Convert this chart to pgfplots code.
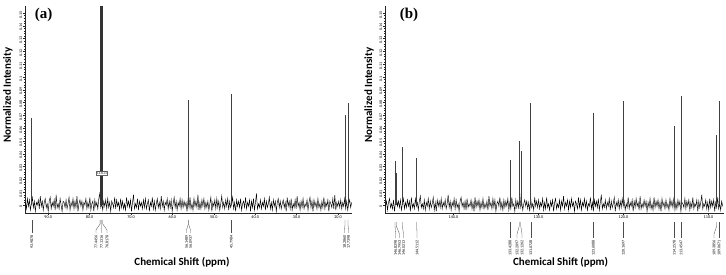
\documentclass[border=0pt]{standalone}
\usepackage{fontspec}
\setmainfont{Carlito}
\newfontfamily\serifb{Liberation Serif}
\usepackage{pgfplots}
\pgfplotsset{compat=1.18}
\usepackage{pgfplotstable}

% baseline noise, in units of 0.001 (normalized intensity)
\pgfplotstableread[row sep=\\]{y\\
2\\ -3\\ 5\\ -1\\ 4\\ -4\\ 1\\ 6\\ -2\\ 3\\ -5\\ 2\\ 0\\ 4\\ -3\\ 7\\ -1\\ 3\\ -4\\ 2\\
5\\ -2\\ 1\\ -5\\ 3\\ 6\\ -3\\ 2\\ -1\\ 4\\ -4\\ 8\\ -2\\ 1\\ -3\\ 5\\ 0\\ -5\\ 3\\ 2\\
-2\\ 4\\ -3\\ 1\\ 6\\ -4\\ 2\\ -1\\ 5\\ -3\\ 3\\ -2\\ 7\\ -5\\ 1\\ 4\\ -1\\ 3\\ -4\\ 2\\
0\\ 5\\ -3\\ 2\\ -2\\ 6\\ -4\\ 1\\ 3\\ -5\\ 4\\ -1\\ 2\\ -3\\ 5\\ 9\\ -2\\ 1\\ -4\\ 3\\
-1\\ 4\\ -3\\ 5\\ -2\\ 2\\ -5\\ 3\\ 1\\ -2\\ 6\\ -3\\ 4\\ -1\\ 2\\ -4\\ 5\\ -2\\ 3\\ -3\\
1\\ -4\\ 6\\ -1\\ 3\\ -2\\ 4\\ -5\\ 2\\ 8\\ -3\\ 1\\ -2\\ 5\\ -4\\ 3\\ -1\\ 2\\ -3\\ 4\\
-2\\ 5\\ -3\\ 1\\ 4\\ -5\\ 2\\ -1\\ 6\\ -3\\ 3\\ -4\\ 1\\ 5\\ -2\\ 2\\ -3\\ 7\\ -1\\ 3\\
-4\\ 2\\ 0\\ 5\\ -3\\ 3\\ -2\\ 4\\ -5\\ 1\\ 6\\ -2\\ 3\\ -4\\ 2\\ -1\\ 5\\ -3\\ 4\\ -2\\
3\\ -1\\ 2\\ -5\\ 4\\ -2\\ 6\\ -3\\ 1\\ -4\\ 5\\ -1\\ 3\\ -2\\ 8\\ -4\\ 2\\ -3\\ 4\\ -1\\
5\\ -3\\ 2\\ -2\\ 3\\ -4\\ 1\\ 6\\ -5\\ 2\\ -1\\ 4\\ -3\\ 5\\ -2\\ 3\\ -4\\ 1\\ 7\\ -2\\
2\\ -3\\ 4\\ -1\\ 5\\ -4\\ 3\\ -2\\ 1\\ 6\\ -3\\ 2\\ -5\\ 4\\ -1\\ 3\\ -2\\ 5\\ -4\\ 1\\
3\\ -2\\ 6\\ -3\\ 2\\ -1\\ 4\\ -5\\ 3\\ -2\\ 5\\ -4\\ 2\\ 9\\ -3\\ 1\\ -2\\ 4\\ -3\\ 2\\
-1\\ 5\\ -4\\ 3\\ -2\\ 1\\ 6\\ -3\\ 2\\ -4\\ 4\\ -1\\ 3\\ -5\\ 2\\ 5\\ -2\\ 3\\ -3\\ 1\\
4\\ -2\\ 2\\ -5\\ 6\\ -1\\ 3\\ -3\\ 5\\ -4\\ 1\\ -2\\ 4\\ -3\\ 7\\ -1\\ 2\\ -4\\ 3\\ -2\\
5\\ -3\\ 1\\ -1\\ 4\\ -4\\ 2\\ 6\\ -2\\ 3\\ -5\\ 4\\ -1\\ 2\\ -3\\ 5\\ -2\\ 1\\ -4\\ 3\\
-2\\ 6\\ -3\\ 2\\ -1\\ 4\\ -5\\ 3\\ 1\\ -2\\ 5\\ -3\\ 8\\ -4\\ 2\\ -1\\ 3\\ -2\\ 4\\ -3\\
2\\ -1\\ 5\\ -3\\ 3\\ -4\\ 1\\ 4\\ -2\\ 2\\
}\noiseA

\pgfplotstableread[row sep=\\]{y\\
-1\\ 3\\ -4\\ 2\\ 5\\ -2\\ 1\\ -3\\ 4\\ -5\\ 2\\ 6\\ -1\\ 3\\ -2\\ 4\\ -4\\ 1\\ 5\\ -3\\
2\\ -2\\ 4\\ -1\\ 3\\ -5\\ 6\\ -2\\ 1\\ -3\\ 5\\ -1\\ 2\\ -4\\ 3\\ 7\\ -2\\ 1\\ -3\\ 4\\
-4\\ 2\\ -1\\ 5\\ -3\\ 3\\ -2\\ 1\\ 6\\ -4\\ 2\\ -5\\ 4\\ -1\\ 3\\ -2\\ 5\\ -3\\ 2\\ -1\\
4\\ -3\\ 1\\ 8\\ -2\\ 3\\ -4\\ 2\\ -1\\ 5\\ -3\\ 4\\ -2\\ 1\\ -5\\ 3\\ 6\\ -1\\ 2\\ -3\\
3\\ -4\\ 5\\ -2\\ 1\\ -1\\ 4\\ -3\\ 2\\ -5\\ 6\\ -2\\ 3\\ -1\\ 4\\ -4\\ 2\\ -2\\ 5\\ -3\\
1\\ -2\\ 3\\ -4\\ 7\\ -1\\ 2\\ -3\\ 5\\ -2\\ 4\\ -5\\ 1\\ 3\\ -1\\ 6\\ -3\\ 2\\ -4\\ 4\\
-2\\ 3\\ -1\\ 5\\ -4\\ 2\\ -3\\ 6\\ -1\\ 1\\ -5\\ 4\\ -2\\ 3\\ -3\\ 9\\ -2\\ 2\\ -4\\ 1\\
4\\ -1\\ 3\\ -3\\ 2\\ -5\\ 5\\ -2\\ 1\\ -4\\ 6\\ -1\\ 3\\ -2\\ 4\\ -3\\ 2\\ -1\\ 5\\ -4\\
2\\ -3\\ 6\\ -2\\ 1\\ -4\\ 3\\ -1\\ 4\\ -5\\ 2\\ 5\\ -3\\ 1\\ -2\\ 4\\ -4\\ 3\\ -1\\ 7\\
-3\\ 2\\ -1\\ 4\\ -4\\ 3\\ -2\\ 5\\ -1\\ 2\\ -5\\ 3\\ 1\\ -3\\ 6\\ -2\\ 4\\ -4\\ 2\\ -1\\
5\\ -2\\ 3\\ -4\\ 1\\ -1\\ 6\\ -3\\ 2\\ -5\\ 4\\ -1\\ 3\\ -2\\ 5\\ -4\\ 2\\ 8\\ -3\\ 1\\
-2\\ 4\\ -3\\ 2\\ -1\\ 5\\ -4\\ 3\\ -2\\ 1\\ 6\\ -5\\ 2\\ -1\\ 4\\ -3\\ 3\\ -2\\ 5\\ -1\\
3\\ -4\\ 1\\ -2\\ 6\\ -3\\ 2\\ -1\\ 4\\ -5\\ 3\\ -2\\ 5\\ -1\\ 2\\ -4\\ 7\\ -3\\ 1\\ -2\\
4\\ -1\\ 3\\ -5\\ 2\\ -2\\ 5\\ -3\\ 1\\ -4\\ 6\\ -2\\ 3\\ -1\\ 4\\ -3\\ 2\\ -5\\ 5\\ -1\\
2\\ -3\\ 4\\ -2\\ 1\\ -4\\ 5\\ -1\\ 3\\ -2\\ 6\\ -4\\ 2\\ -3\\ 4\\ -1\\ 3\\ -5\\ 2\\ 1\\
-2\\ 5\\ -3\\ 3\\ -1\\ 4\\ -4\\ 2\\ -2\\ 6\\ -3\\ 1\\ -1\\ 4\\ -5\\ 3\\ -2\\ 2\\ 8\\ -3\\
1\\ -1\\ 4\\ -3\\ 2\\ -4\\ 5\\ -2\\ 3\\ -1\\ 4\\ -5\\ 2\\ -2\\ 6\\ -3\\ 1\\ -4\\ 3\\ -1\\
}\noiseB

% peak label: #1 peak ppm, #2 label ppm, #3 text
\newcommand{\plabA}[3]{%
  \draw[black!70, line width=0.3pt] (axis cs:#1,-11.7) -- (axis cs:#1,-14.8) -- (axis cs:#2,-19.5) -- (axis cs:#2,-21.9);
  \node[rotate=90, anchor=east, font=\fontsize{4}{4}\selectfont, inner sep=0.3pt] at (axis cs:#2,-23.4) {#3};}
\newcommand{\plabB}[3]{%
  \draw[black!70, line width=0.3pt] (axis cs:#1,-13.3) -- (axis cs:#1,-16.4) -- (axis cs:#2,-22.7) -- (axis cs:#2,-25.8);
  \node[rotate=90, anchor=east, font=\fontsize{4}{4}\selectfont, inner sep=0.3pt] at (axis cs:#2,-27.3) {#3};}

\pgfplotsset{nmr/.style={
  scale only axis, height=207pt, ymin=-6.25, ymax=155.5,
  x dir=reverse, axis x line=bottom, axis y line=left,
  axis line style={-, line width=0.4pt, black!85},
  ytick={0,10,...,150},
  yticklabels={0,0.01,0.02,0.03,0.04,0.05,0.06,0.07,0.08,0.09,0.1,0.11,0.12,0.13,0.14,0.15},
  minor y tick num=4, tick align=outside,
  major tick length=1.8pt, minor tick length=1pt,
  tick style={black!85, line width=0.3pt},
  yticklabel style={rotate=90, anchor=south, font=\fontsize{4}{4}\selectfont, inner sep=0.8pt, xshift=-1.5pt},
  xticklabel style={font=\fontsize{4.2}{4.2}\selectfont, inner sep=0.8pt},
  clip=false,
  xlabel={Chemical Shift (ppm)}, ylabel={Normalized Intensity},
  label style={font=\fontsize{11}{12}\selectfont\bfseries},
}}

\begin{document}
\begin{tikzpicture}
\useasboundingbox (0pt,0pt) rectangle (726pt,274pt);

% ---------------- panel (a) ----------------
\begin{axis}[nmr, at={(25pt,61pt)}, anchor=south west, width=327pt,
  xmin=16.62, xmax=95.60,
  xtick={20,30,40,50,60,70,80,90},
  xticklabels={20.0,30.0,40.0,50.0,60.0,70.0,80.0,90.0},
  minor x tick num=4,
  xlabel style={at={(axis description cs:0.48,-0.237)}, anchor=center},
  ylabel style={at={(axis description cs:-0.052,0.57)}, anchor=center},
]
\addplot[black, line width=0.45pt, no marks] table[x expr={95.5-\coordindex*0.2395}, y=y] {\noiseA};
\addplot[ycomb, black!75, line width=0.5pt, no marks] coordinates {
  (93.9878,68) (56.1489,82) (56.0937,80) (45.7984,87) (18.29,70) (17.60,80)};
\addplot[ycomb, black!80, line width=0.6pt, no marks] coordinates {
  (77.45,155.5) (77.13,155.5) (76.82,155.5)};
\node[draw=black!60, line width=0.2pt, fill=white, inner sep=0.6pt, font=\serifb\fontsize{3.5}{3.5}\selectfont] at (axis cs:77.0,25) {CDCl3};
\node[font=\serifb\fontsize{15}{15}\selectfont\bfseries] at (axis description cs:0.057,0.957) {(a)};
\plabA{93.9878}{93.9878}{93.9878}
\plabA{77.45}{78.45}{77.4456}
\plabA{77.13}{77.12}{77.1316}
\plabA{76.82}{75.80}{76.8178}
\plabA{56.1489}{56.59}{56.1489}
\plabA{56.0937}{55.63}{56.0937}
\plabA{45.7984}{45.7984}{45.7984}
\plabA{18.29}{18.43}{18.2860}
\plabA{17.60}{17.46}{17.7398}
\end{axis}

% ---------------- panel (b) ----------------
\begin{axis}[nmr, at={(385pt,61pt)}, anchor=south west, width=339pt,
  xmin=108.18, xmax=148.06,
  xtick={110,120,130,140},
  xticklabels={110.0,120.0,130.0,140.0},
  minor x tick num=9,
  xlabel style={at={(axis description cs:0.518,-0.237)}, anchor=center},
  ylabel style={at={(axis description cs:-0.047,0.57)}, anchor=center},
]
\addplot[black, line width=0.45pt, no marks] table[x expr={148.0-\coordindex*0.117}, y=y] {\noiseB};
\addplot[ycomb, black!75, line width=0.5pt, no marks] coordinates {
  (146.88,34) (146.73,25) (146.02,45) (144.33,37) (133.35,35) (132.26,50) (132.09,42)
  (130.92,80) (123.55,72) (120.02,81) (114.02,62) (113.24,85) (109.04,55) (108.76,81)};
\node[font=\serifb\fontsize{15}{15}\selectfont\bfseries] at (axis description cs:0.071,0.957) {(b)};
\plabB{146.88}{146.82}{146.8298}
\plabB{146.73}{146.35}{146.7953}
\plabB{146.02}{145.88}{146.0213}
\plabB{144.33}{144.29}{144.5112}
\plabB{133.35}{133.35}{133.4288}
\plabB{132.26}{132.53}{132.2097}
\plabB{132.09}{131.94}{132.1262}
\plabB{130.92}{130.92}{131.0728}
\plabB{123.55}{123.55}{123.6088}
\plabB{120.02}{120.02}{120.1697}
\plabB{114.02}{114.02}{114.2578}
\plabB{113.24}{113.24}{113.4547}
\plabB{109.04}{109.35}{109.3856}
\plabB{108.76}{108.76}{109.0671}
\end{axis}
\end{tikzpicture}
\end{document}
